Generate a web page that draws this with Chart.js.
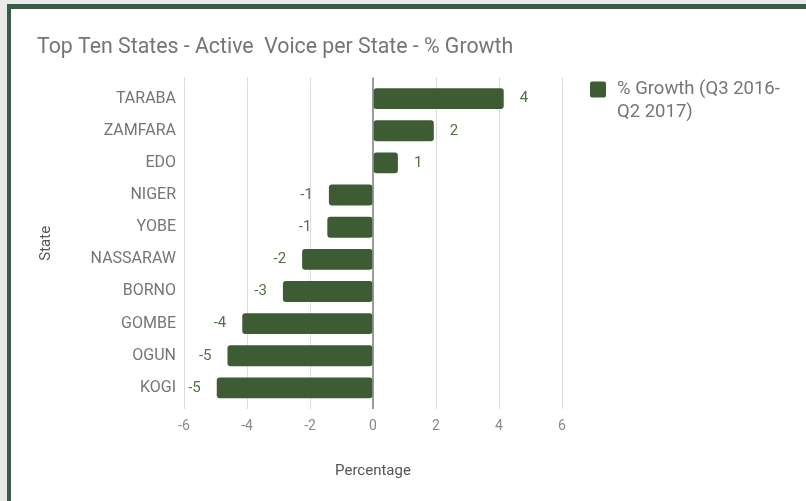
<!DOCTYPE html>
<html>
<head>
<meta charset="utf-8">
<script src="https://cdn.jsdelivr.net/npm/chart.js@4.4.0/dist/chart.umd.min.js"></script>
<style>
  html, body { margin: 0; padding: 0; background: #e8e9e9; width: 806px; height: 501px; overflow: hidden; }
  #moldura { position: absolute; left: 7px; top: 4px; width: 830px; height: 530px; background: #fff;
    border-top: 5px solid #3b5d47; border-left: 4px solid #3b5d47; box-sizing: border-box; }
  #grafico { position: absolute; left: 0; top: 0; }
</style>
</head>
<body>
<div id="moldura"></div>
<canvas id="grafico" width="806" height="501"></canvas>
<script>
const estados = ['TARABA', 'ZAMFARA', 'EDO', 'NIGER', 'YOBE', 'NASSARAW', 'BORNO', 'GOMBE', 'OGUN', 'KOGI'];
const crescimento = [4.15, 1.93, 0.79, -1.40, -1.45, -2.25, -2.86, -4.15, -4.62, -4.96];
const ticksX = [-6, -4, -2, 0, 2, 4, 6];
const rotuloSerie = '% Growth (Q3 2016-Q2 2017)';

const corBarra = '#3d5c34';
const fonte = 'Roboto';

// linhas de grade um pouco acima da área e linha do zero por cima das barras
const linhaZero = {
  id: 'linhaZero',
  beforeDatasetsDraw(chart) {
    const ctx = chart.ctx;
    const area = chart.chartArea;
    const sx = chart.scales.x;
    ctx.save();
    ctx.strokeStyle = '#dcdcdc';
    ctx.lineWidth = 1;
    sx.ticks.forEach(t => {
      if (t.value === 0) return;
      const px = Math.round(sx.getPixelForValue(t.value)) + 0.5;
      ctx.beginPath();
      ctx.moveTo(px, area.top - 5);
      ctx.lineTo(px, area.top);
      ctx.stroke();
    });
    ctx.restore();
  },
  afterDatasetsDraw(chart) {
    const ctx = chart.ctx;
    const area = chart.chartArea;
    const px = chart.scales.x.getPixelForValue(0);
    ctx.save();
    ctx.strokeStyle = '#7a7a7a';
    ctx.lineWidth = 1.5;
    ctx.beginPath();
    ctx.moveTo(px, area.top - 5);
    ctx.lineTo(px, area.bottom + 5);
    ctx.stroke();
    ctx.restore();
  }
};

// rótulos de valor ao lado de cada barra
const rotulosValor = {
  id: 'rotulosValor',
  afterDatasetsDraw(chart) {
    const ctx = chart.ctx;
    const meta = chart.getDatasetMeta(0);
    ctx.save();
    ctx.font = '15px ' + fonte;
    ctx.fillStyle = '#4f723f';
    ctx.textBaseline = 'middle';
    meta.data.forEach((barra, i) => {
      const v = crescimento[i];
      const txt = String(Math.round(v));
      if (v >= 0) {
        ctx.textAlign = 'left';
        ctx.fillText(txt, barra.x + 16, barra.y);
      } else {
        ctx.textAlign = 'right';
        ctx.fillText(txt, barra.x - 16, barra.y);
      }
    });
    ctx.restore();
  }
};

// legenda à direita, com quebra de linha
const legendaLateral = {
  id: 'legendaLateral',
  afterDraw(chart) {
    const ctx = chart.ctx;
    const area = chart.chartArea;
    const x = area.right + 28;
    const y = area.top - 1;
    ctx.save();
    ctx.fillStyle = corBarra;
    ctx.beginPath();
    ctx.roundRect(x, y, 16, 16, 2);
    ctx.fill();
    ctx.font = '18.5px ' + fonte;
    ctx.fillStyle = '#757575';
    ctx.textAlign = 'left';
    ctx.textBaseline = 'middle';
    const partes = rotuloSerie.match(/[^ -]+[ -]?/g);
    const linhas = [];
    let atual = '';
    partes.forEach(p => {
      if (atual && ctx.measureText((atual + p).trim()).width > 175) {
        linhas.push(atual.trim());
        atual = p;
      } else {
        atual += p;
      }
    });
    if (atual) linhas.push(atual.trim());
    linhas.forEach((l, i) => ctx.fillText(l, x + 27, y + 8 + i * 23));
    ctx.restore();
  }
};

const ctx = document.getElementById('grafico').getContext('2d');
new Chart(ctx, {
  type: 'bar',
  data: {
    labels: estados,
    datasets: [{
      label: rotuloSerie,
      data: crescimento,
      backgroundColor: corBarra,
      borderRadius: 3,
      borderSkipped: false,
      barPercentage: 0.65,
      categoryPercentage: 1
    }]
  },
  options: {
    indexAxis: 'y',
    responsive: false,
    animation: false,
    layout: { padding: { left: 37, right: 244, top: 0, bottom: 0 } },
    plugins: {
      legend: { display: false },
      tooltip: { enabled: false },
      title: {
        display: true,
        text: 'Top Ten States - Active  Voice per State - % Growth',
        align: 'start',
        color: '#757575',
        font: { family: fonte, size: 21.3, weight: 'normal' },
        padding: { top: 35, bottom: 22 }
      }
    },
    scales: {
      x: {
        min: -6,
        max: 6,
        afterBuildTicks: (scale) => { scale.ticks = ticksX.map(v => ({ value: v })); },
        afterFit: (scale) => { scale.height = 97; },
        grid: {
          color: (c) => c.tick && c.tick.value === 0 ? 'rgba(0,0,0,0)' : '#dcdcdc',
          lineWidth: 1,
          tickLength: 5
        },
        border: { display: false },
        ticks: {
          color: '#8a8a8a',
          padding: 9,
          font: { family: fonte, size: 14 }
        },
        title: {
          display: true,
          text: 'Percentage',
          color: '#555555',
          font: { family: fonte, size: 15 },
          padding: { top: 0, bottom: 21 }
        }
      },
      y: {
        afterFit: (scale) => { scale.width = 147; },
        grid: { display: false, drawTicks: false },
        border: { display: false },
        ticks: {
          color: '#757575',
          padding: 8,
          font: { family: fonte, size: 16 }
        },
        title: {
          display: true,
          text: 'State',
          color: '#555555',
          font: { family: fonte, size: 15 },
          padding: { top: 0, bottom: 0 }
        }
      }
    }
  },
  plugins: [linhaZero, rotulosValor, legendaLateral]
});
</script>
</body>
</html>
